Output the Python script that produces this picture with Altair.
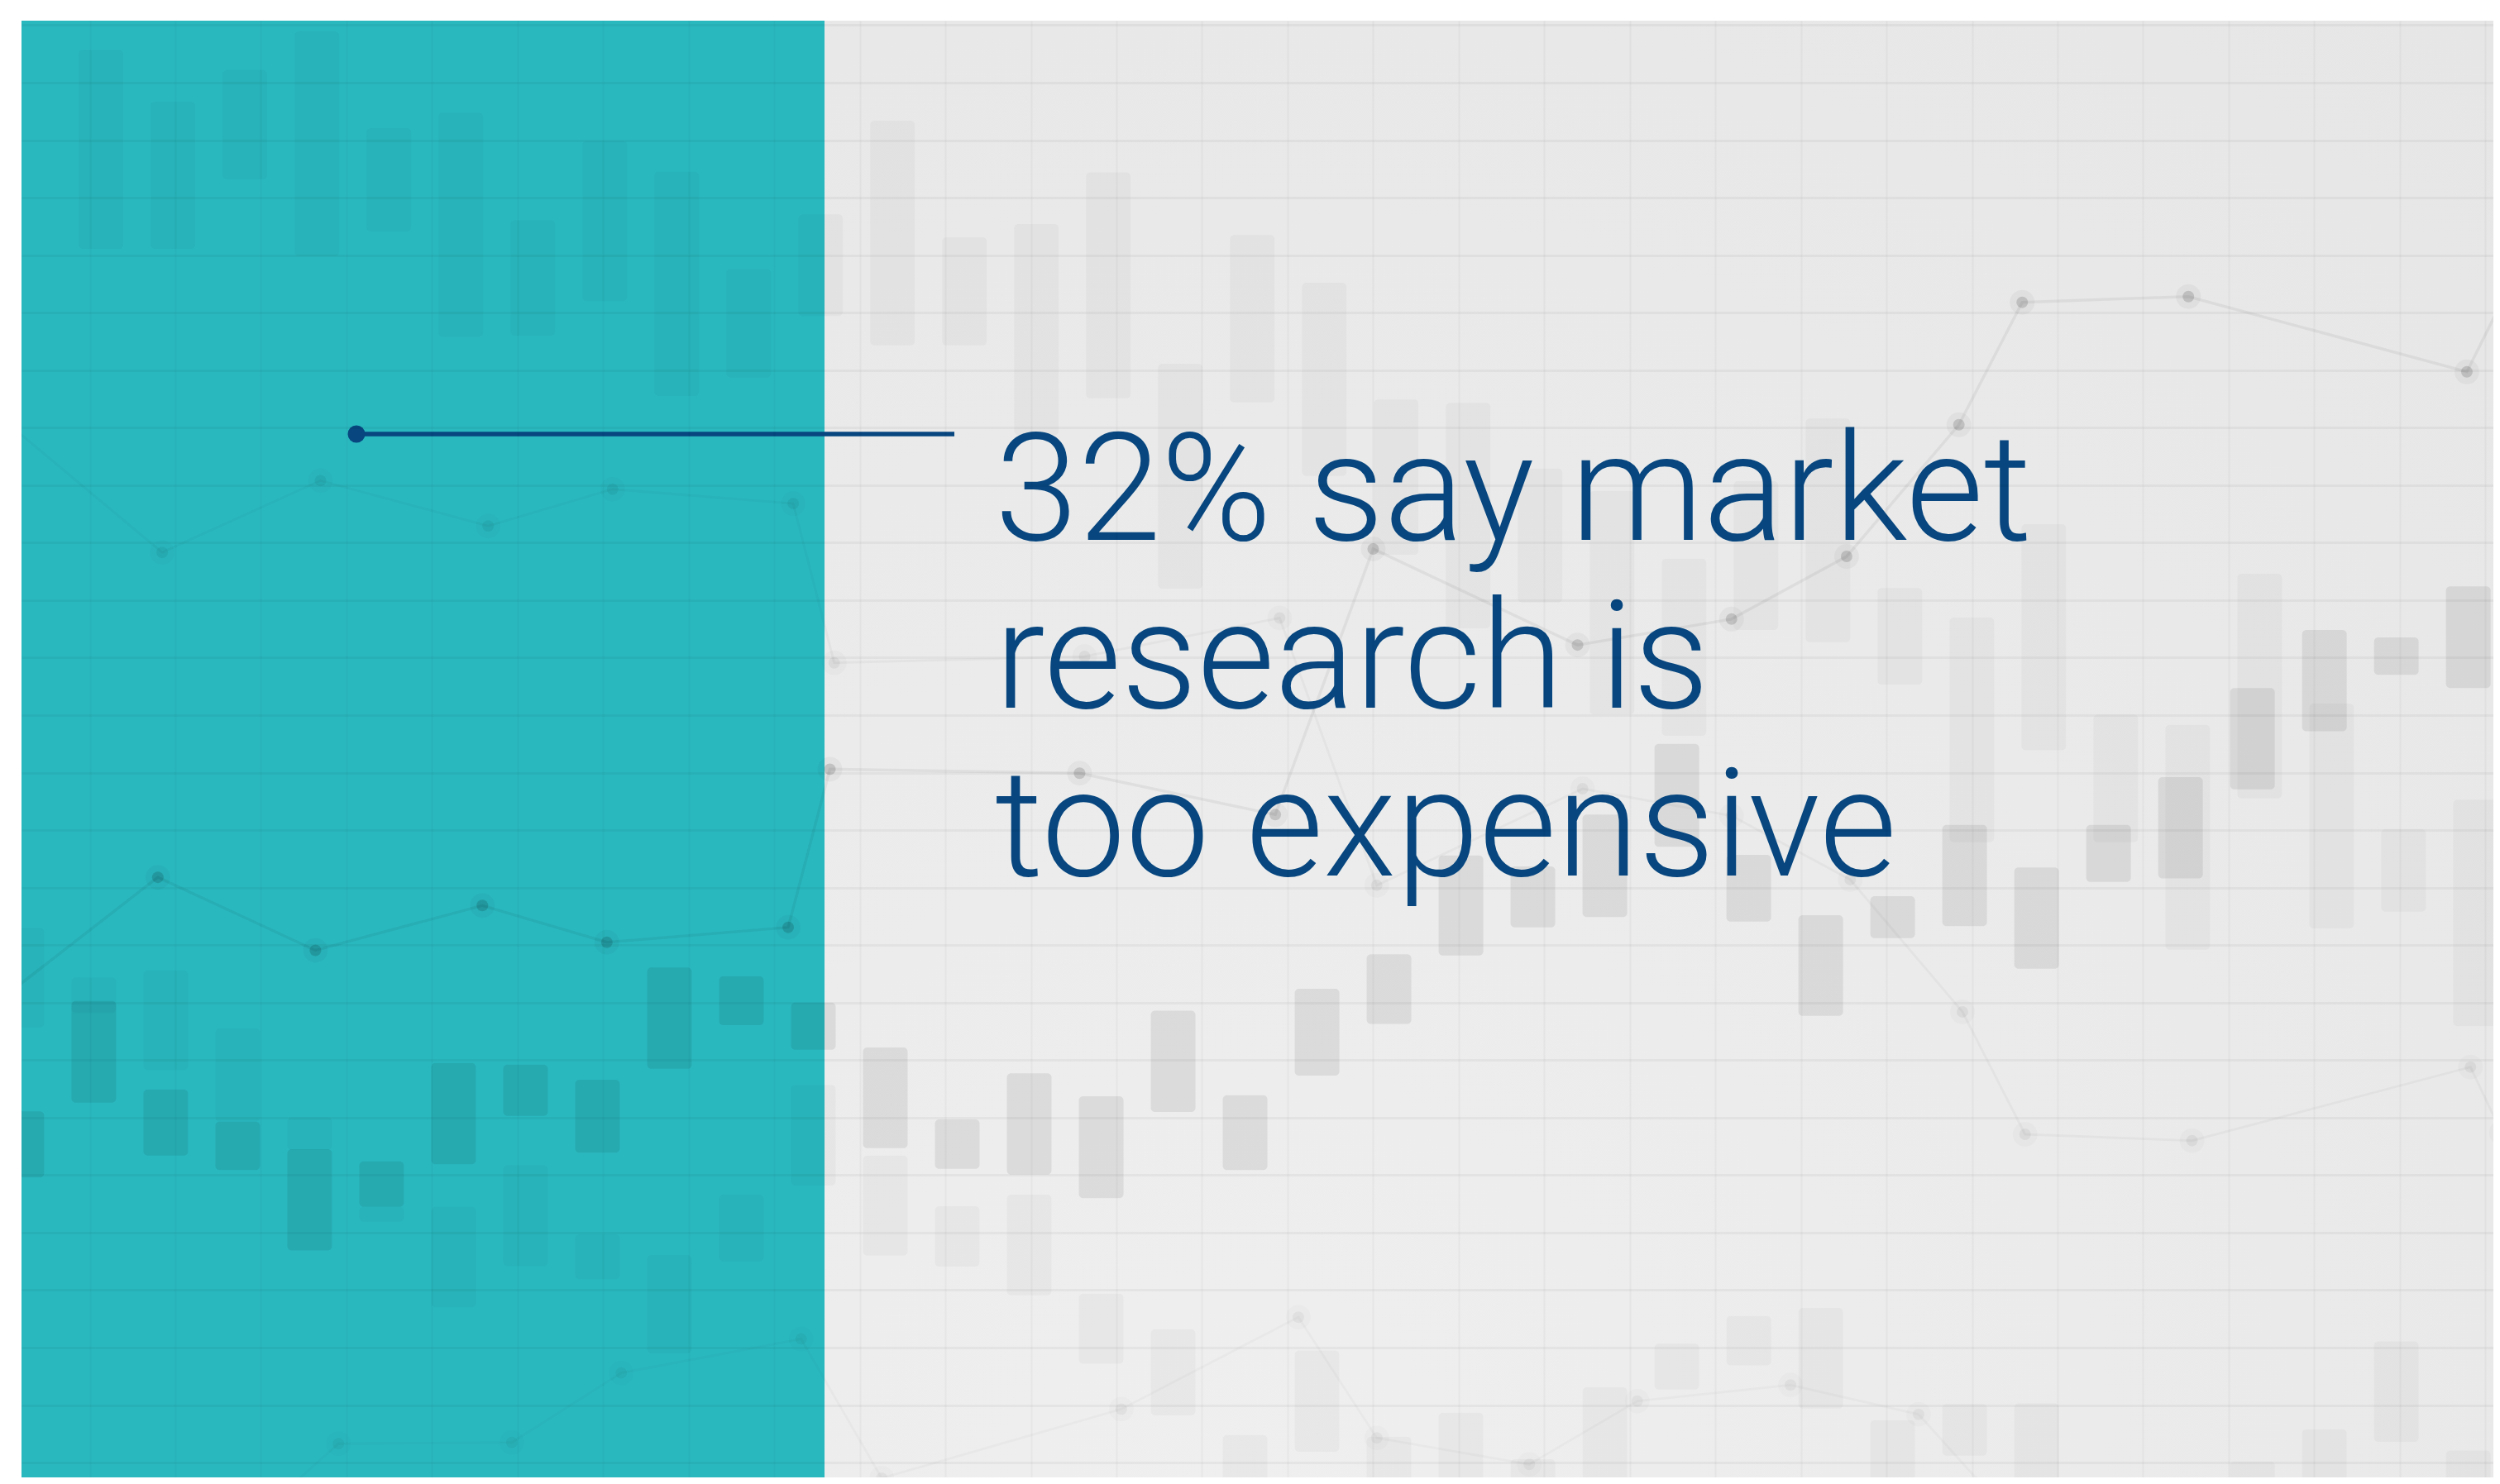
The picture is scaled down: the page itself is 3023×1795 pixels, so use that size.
import altair as alt
import pandas as pd

# ---------------- data (index units on x, price units on y) ----------------
# main candlestick bodies
main_i = list(range(35))
main_hi = [6.11, 8.03, 6.49, 5.93, 5.45, 5.24, 6.95, 6.92, 6.66, 8.61, 8.46, 8.00, 7.22, 5.97, 6.77,
           6.37, 7.86, 6.39, 8.24, 8.84, 10.56, 10.37, 11.27, 12.50, 10.57, 9.52, 9.85, 11.09, 10.35,
           11.09, 11.92, 13.47, 14.48, 14.35, 15.24]
main_lo = [4.96, 6.26, 5.34, 5.09, 3.69, 4.45, 5.19, 6.03, 5.39, 6.85, 7.61, 7.18, 5.47, 5.11, 5.01,
           4.60, 6.10, 5.09, 6.73, 7.63, 8.82, 9.31, 9.49, 10.71, 9.41, 7.77, 9.12, 9.33, 8.59,
           10.10, 10.16, 11.71, 12.72, 13.70, 13.47]

# faint upper ghost candles
ghost_up_i = [1.1, 2.1, 3.1, 4.1, 5.1, 6.1, 7.1, 8.1, 9.1, 10.1, 11.1, 12.1, 13.1, 14.1, 15.1, 16.1, 17.1,
              18.1, 19.1, 20.1, 21.1, 22.1, 23.1, 24.1, 25.1, 26.1, 27.1, 28.1, 29.1, 30.1, 31.1, 32.1,
              33.1, 34.1]
ghost_up_hi = [24.57, 23.67, 24.22, 24.89, 23.21, 23.48, 21.61, 22.99, 22.45, 20.76, 21.71, 23.34, 21.31,
               21.54, 22.44, 19.11, 21.35, 20.52, 18.49, 18.43, 17.29, 16.90, 15.72, 17.07, 18.16, 15.21,
               14.70, 16.32, 13.01, 12.83, 15.46, 13.20, 11.02, 11.53]
ghost_up_lo = [21.11, 21.11, 22.32, 20.98, 21.41, 19.58, 19.60, 20.20, 18.55, 18.87, 19.94, 19.43, 19.43,
               17.87, 18.51, 15.20, 18.44, 17.16, 15.79, 14.51, 14.96, 13.01, 12.64, 14.48, 14.27, 13.53,
               10.79, 12.39, 10.79, 8.92, 11.55, 9.29, 9.58, 7.59]

# faint lower ghost candles
ghost_lo_i = [0, 1, 2, 3, 4, 5, 6, 7, 8, 9, 10, 11, 12, 13, 14, 15, 16, 17, 18, 19, 20, 21, 22, 23, 24,
              25, 26, 27, 28, 31, 32, 33, 34]
ghost_lo_hi = [9.30, 8.44, 8.56, 7.55, 6.01, 4.45, 4.45, 5.17, 3.97, 3.61, 4.66, 6.57, 5.34, 4.46, 4.66,
               2.94, 2.32, 0.48, 1.95, 0.45, 0.87, 0.06, 1.31, 2.07, 2.55, 2.69, 0.74, 1.02, 1.03, 0.02,
               0.58, 2.11, 0.21]
ghost_lo_lo = [7.57, 7.82, 6.83, 5.93, 5.44, 4.19, 2.70, 3.42, 3.19, 1.90, 3.50, 4.82, 3.60, 3.41, 2.91,
               1.72, 0.82, -0.6, 0.19, -0.6, -0.6, -0.6, -0.6, 1.27, 1.69, 0.94, -0.6, 0.12, -0.6, -0.6,
               -0.6, 0.36, -0.6]

# main trend line
line_x = [-0.93, 1.89, 4.08, 6.40, 8.13, 10.65, 11.23, 14.70, 17.42, 18.78, 21.62, 23.76, 25.36, 26.92,
          27.80, 30.11, 33.98, 34.69]
line_y = [7.44, 10.18, 8.91, 9.69, 9.05, 9.31, 12.06, 11.99, 11.27, 15.89, 14.22, 14.67, 15.76, 18.05,
          20.18, 20.28, 18.97, 20.76]

# faint mirrored line
mirror_x = [-0.47, 1.95, 4.15, 6.48, 8.21, 10.72, 11.29, 14.77, 17.48, 18.83, 21.69, 23.76, 25.41, 26.97,
            27.84, 30.16, 34.03, 34.46]
mirror_y = [18.36, 15.83, 17.08, 16.29, 16.93, 16.68, 13.91, 14.02, 14.69, 10.04, 11.72, 11.25, 10.14,
            7.84, 5.71, 5.60, 6.88, 5.74]

# faint bottom line
bottom_x = [3.19, 4.40, 6.81, 8.33, 10.83, 11.95, 15.28, 17.74, 18.83, 20.95, 22.45, 24.58, 26.36, 27.70]
bottom_y = [-1.02, 0.33, 0.35, 1.56, 2.15, -0.27, 0.93, 2.53, 0.43, -0.03, 1.07, 1.35, 0.84, -1.02]

headline = ["32% say market", "research is", "too expensive"]

# grid positions (index/price units)
grid_x = [round(-0.245 + 1.189 * k, 3) for k in range(1, 30)]
grid_y = list(range(0, 26))

# ---------------- chart ----------------
W, H = 2989, 1762
TEAL = "#2AB8BF"
NAVY = "#07467F"

xs = alt.Scale(domain=[0.0527, (26 + W - 21.4) / 87.3], nice=False, zero=False)
ys = alt.Scale(domain=[25.437 - (25 + H) / 69.55, 25.078], nice=False, zero=False)
ax_x = alt.Axis(values=grid_x, grid=True, labels=False, ticks=False, domain=False, title=None,
                gridColor="black", gridOpacity=0.032, gridWidth=2, zindex=1)
ax_y = alt.Axis(values=grid_y, grid=True, labels=False, ticks=False, domain=False, title=None,
                gridColor="black", gridOpacity=0.038, gridWidth=3, zindex=1)

one = alt.Data(values=[{}])

bg = alt.Chart(one).mark_rect(
    color=alt.RadialGradient(
        gradient="radial",
        stops=[alt.GradientStop(color="#EEEFEE", offset=0), alt.GradientStop(color="#E3E3E3", offset=1)],
        x1=0.49, y1=0.81, r1=0, x2=0.49, y2=0.81, r2=1.05)
).encode(x=alt.value(0), x2=alt.value(W), y=alt.value(0), y2=alt.value(H))

teal = alt.Chart(one).mark_rect(color=TEAL).encode(
    x=alt.value(0), x2=alt.value(971), y=alt.value(0), y2=alt.value(H))


def candles(i, hi, lo, op):
    df = pd.DataFrame({"i": i, "hi": hi, "lo": lo})
    return alt.Chart(df).mark_bar(width=54, cornerRadius=5, color="black", opacity=op, clip=True).encode(
        x=alt.X("i:Q", scale=xs, axis=ax_x),
        y=alt.Y("hi:Q", scale=ys, axis=ax_y),
        y2="lo:Q")


def trend(x, y, line_op, dot_op, halo_op, width):
    df = pd.DataFrame({"x": x, "y": y})
    base = alt.Chart(df).encode(x=alt.X("x:Q", scale=xs, axis=ax_x), y=alt.Y("y:Q", scale=ys, axis=ax_y))
    ln = base.mark_line(color="black", opacity=line_op, strokeWidth=width, clip=True)
    halo = base.mark_circle(color="black", opacity=halo_op, size=900, clip=True)
    dot = base.mark_circle(color="black", opacity=dot_op, size=196, clip=True)
    return ln + halo + dot


pointer = alt.Chart(one).mark_rule(color=NAVY, strokeWidth=5.5).encode(
    x=alt.value(405), x2=alt.value(1128), y=alt.value(500))
pointer_dot = alt.Chart(one).mark_circle(color=NAVY, opacity=1, size=441).encode(
    x=alt.value(405), y=alt.value(500))

text = alt.Chart(one).mark_text(
    font="Roboto", fontWeight=300, fontSize=181, color=NAVY, align="left", baseline="alphabetic",
    lineHeight=203
).encode(x=alt.value(1177), y=alt.value(627.6), text=alt.value(headline))

chart = alt.layer(
    bg, teal,
    candles(ghost_up_i, ghost_up_hi, ghost_up_lo, 0.026),
    candles(ghost_lo_i, ghost_lo_hi, ghost_lo_lo, 0.028),
    candles(main_i, main_hi, main_lo, 0.075),
    trend(bottom_x, bottom_y, 0.025, 0.04, 0.015, 3),
    trend(mirror_x, mirror_y, 0.03, 0.05, 0.02, 3),
    trend(line_x, line_y, 0.055, 0.14, 0.035, 3.5),
    pointer, pointer_dot, text
).properties(
    width=W, height=H,
    padding={"left": 18, "top": 17, "right": 0, "bottom": 0},
    autosize=alt.AutoSizeParams(type="none"),
    background="white"
).configure_view(stroke=None)

chart.save("out.html", embed_options={"renderer": "svg", "actions": False})
